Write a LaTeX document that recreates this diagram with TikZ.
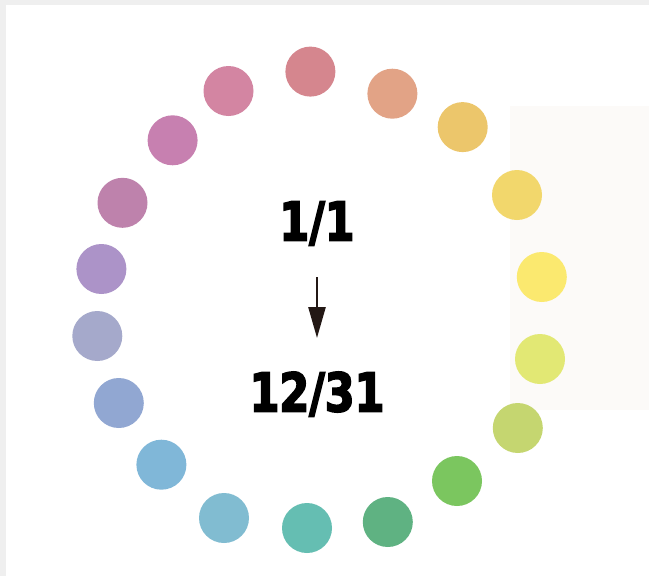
\documentclass[tikz,border=0pt]{standalone}
\usepackage{fontspec}
\newfontfamily\datefont[FakeStretch=0.8, FakeBold=3]{DejaVu Sans}
\usetikzlibrary{arrows.meta}
\definecolor{frameclr}{HTML}{EFEFEF}
\definecolor{panelclr}{HTML}{FCFAF8}
\definecolor{arrowclr}{HTML}{231815}
\definecolor{dotclr1}{HTML}{D5868E}
\definecolor{dotclr2}{HTML}{E2A386}
\definecolor{dotclr3}{HTML}{ECC66B}
\definecolor{dotclr4}{HTML}{F2D76C}
\definecolor{dotclr5}{HTML}{FBE96F}
\definecolor{dotclr6}{HTML}{E2E874}
\definecolor{dotclr7}{HTML}{C5D670}
\definecolor{dotclr8}{HTML}{7BC65F}
\definecolor{dotclr9}{HTML}{5FB282}
\definecolor{dotclr10}{HTML}{65BEB2}
\definecolor{dotclr11}{HTML}{81BCD1}
\definecolor{dotclr12}{HTML}{80B7D8}
\definecolor{dotclr13}{HTML}{91A7D2}
\definecolor{dotclr14}{HTML}{A5A9CB}
\definecolor{dotclr15}{HTML}{AC93C8}
\definecolor{dotclr16}{HTML}{BE82AC}
\definecolor{dotclr17}{HTML}{C780B0}
\definecolor{dotclr18}{HTML}{D385A2}

\begin{document}
\begin{tikzpicture}[
  x=1pt, y=-1pt,
  dot/.style={circle, inner sep=0pt, minimum size=50pt},
  date/.style={font=\datefont\bfseries\fontsize{53.5}{60}\selectfont, inner sep=0pt, anchor=base},
  arrow/.style={-{Triangle[length=31pt, width=17pt]}, line width=2.6pt, draw=arrowclr},
]

% Frame and side panel
\fill[frameclr] (0,0) rectangle (649,576);
\fill[white] (6,5) rectangle (649,576);
\fill[panelclr] (510,106) rectangle (649,410);

% Ring of dots
\foreach \i/\x/\y in {1/310.4/71.6, 2/392.4/93.7, 3/462.7/127.1, 4/517/195,
    5/541.8/277, 6/540/359, 7/517.8/428, 8/457/481, 9/387.8/522,
    10/307/528, 11/224/518, 12/161.4/464.7, 13/118.8/403, 14/97.3/336,
    15/101.4/269, 16/122.5/202.8, 17/172.6/140.3, 18/228.5/91}
  \node[dot, fill=dotclr\i] (dot\i) at (\x,\y) {};

% Dates
\node[date] (first) at (317, 240.5) {1/1};
\node[date] (last)  at (317, 411.5) {12/31};

% Arrow
\draw[arrow, shorten <=36.5pt, shorten >=73.5pt] (first.base) -- (last.base);

\end{tikzpicture}
\end{document}
